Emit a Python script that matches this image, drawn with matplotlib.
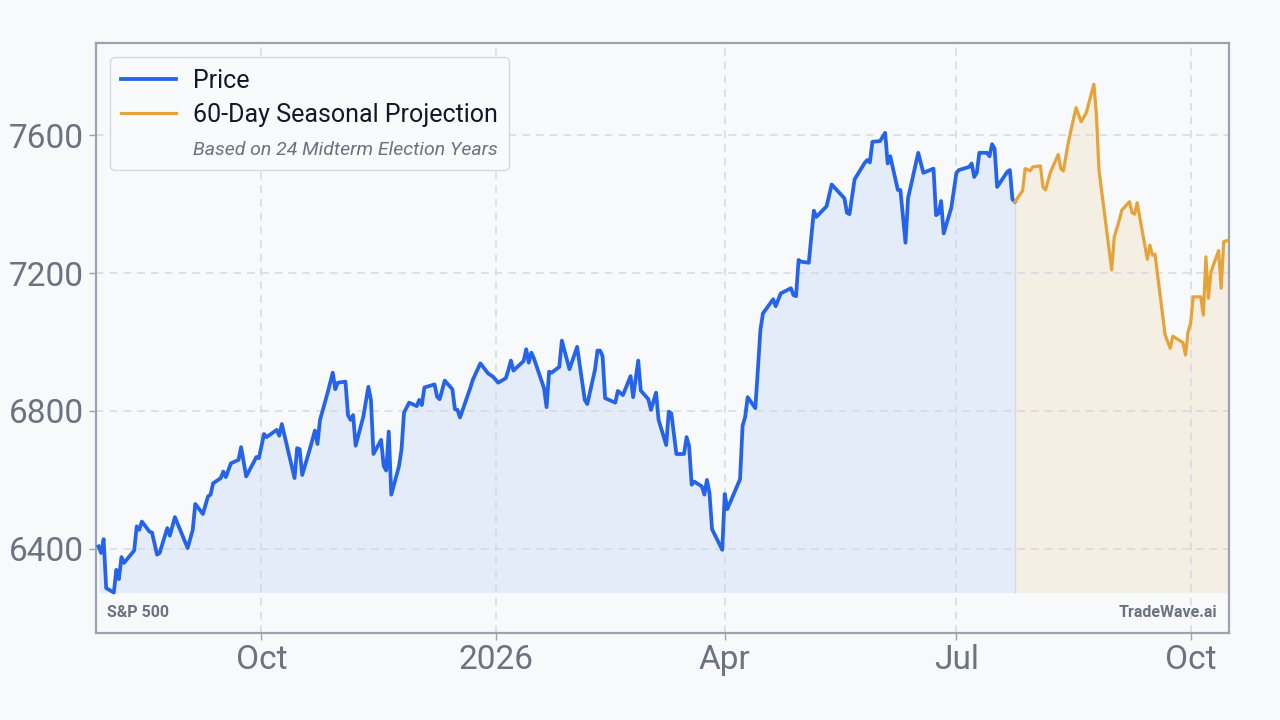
import matplotlib
matplotlib.use("Agg")
import matplotlib.pyplot as plt
import matplotlib.dates as mdates
from matplotlib.lines import Line2D
from matplotlib.ticker import FuncFormatter
import pandas as pd

plt.rcParams['font.family'] = ['Roboto', 'DejaVu Sans']

# S&P 500 closes
price_dates = [
    "2025-07-29", "2025-07-30", "2025-07-31", "2025-08-01", "2025-08-04", "2025-08-05", "2025-08-06",
    "2025-08-07", "2025-08-08", "2025-08-12", "2025-08-13", "2025-08-14", "2025-08-15", "2025-08-18",
    "2025-08-19", "2025-08-21", "2025-08-22", "2025-08-25", "2025-08-26", "2025-08-28",
    "2025-09-02", "2025-09-04", "2025-09-05", "2025-09-08", "2025-09-10", "2025-09-11", "2025-09-12",
    "2025-09-15", "2025-09-16", "2025-09-17", "2025-09-19", "2025-09-22", "2025-09-23", "2025-09-25",
    "2025-09-29", "2025-09-30",
    "2025-10-02", "2025-10-03", "2025-10-07", "2025-10-08", "2025-10-09", "2025-10-14", "2025-10-15",
    "2025-10-16", "2025-10-17", "2025-10-20", "2025-10-22", "2025-10-23", "2025-10-24", "2025-10-27",
    "2025-10-29", "2025-10-30", "2025-10-31",
    "2025-11-03", "2025-11-04", "2025-11-05", "2025-11-06", "2025-11-07", "2025-11-10", "2025-11-12",
    "2025-11-13", "2025-11-14", "2025-11-17", "2025-11-18", "2025-11-19", "2025-11-20", "2025-11-21",
    "2025-11-24", "2025-11-25", "2025-11-26", "2025-11-28",
    "2025-12-01", "2025-12-02", "2025-12-03", "2025-12-04", "2025-12-08", "2025-12-09", "2025-12-10",
    "2025-12-12", "2025-12-15", "2025-12-16", "2025-12-17", "2025-12-18", "2025-12-22", "2025-12-23",
    "2025-12-26", "2025-12-29", "2025-12-31",
    "2026-01-02", "2026-01-05", "2026-01-06", "2026-01-07", "2026-01-08", "2026-01-12", "2026-01-13",
    "2026-01-14", "2026-01-15", "2026-01-16", "2026-01-20", "2026-01-21", "2026-01-22", "2026-01-23",
    "2026-01-26", "2026-01-27", "2026-01-29", "2026-01-30",
    "2026-02-02", "2026-02-05", "2026-02-06", "2026-02-09", "2026-02-10", "2026-02-11", "2026-02-12",
    "2026-02-13", "2026-02-17", "2026-02-18", "2026-02-20", "2026-02-23", "2026-02-24", "2026-02-26",
    "2026-02-27",
    "2026-03-02", "2026-03-03", "2026-03-05", "2026-03-06", "2026-03-09", "2026-03-10", "2026-03-11",
    "2026-03-13", "2026-03-16", "2026-03-17", "2026-03-18", "2026-03-19", "2026-03-20", "2026-03-23",
    "2026-03-24", "2026-03-25", "2026-03-26", "2026-03-27", "2026-03-31",
    "2026-04-01", "2026-04-02", "2026-04-07", "2026-04-08", "2026-04-09", "2026-04-10", "2026-04-13",
    "2026-04-14", "2026-04-15", "2026-04-16", "2026-04-20", "2026-04-21", "2026-04-23", "2026-04-27",
    "2026-04-28", "2026-04-29", "2026-04-30",
    "2026-05-01", "2026-05-04", "2026-05-06", "2026-05-07", "2026-05-11", "2026-05-13", "2026-05-18",
    "2026-05-19", "2026-05-20", "2026-05-22", "2026-05-26", "2026-05-27", "2026-05-28", "2026-05-29",
    "2026-06-01", "2026-06-03", "2026-06-04", "2026-06-05", "2026-06-08", "2026-06-09", "2026-06-11",
    "2026-06-12", "2026-06-16", "2026-06-18", "2026-06-22", "2026-06-23", "2026-06-24", "2026-06-25",
    "2026-06-26", "2026-06-29",
    "2026-07-01", "2026-07-02", "2026-07-06", "2026-07-07", "2026-07-08", "2026-07-09", "2026-07-10",
    "2026-07-13", "2026-07-14", "2026-07-15", "2026-07-16", "2026-07-17", "2026-07-21", "2026-07-22",
    "2026-07-23", "2026-07-24",
]
price_vals = [
    6407, 6388, 6428, 6286, 6273, 6339, 6312,
    6376, 6359, 6395, 6465, 6455, 6479, 6450,
    6447, 6383, 6388, 6460, 6438, 6492,
    6402, 6455, 6530, 6501, 6552, 6557, 6590,
    6605, 6624, 6608, 6648, 6658, 6695, 6610,
    6666, 6663,
    6733, 6724, 6745, 6728, 6762, 6605, 6692,
    6689, 6614, 6689, 6743, 6704, 6774, 6853,
    6911, 6863, 6882,
    6885, 6788, 6774, 6788, 6699, 6783, 6870,
    6832, 6675, 6716, 6641, 6627, 6740, 6557,
    6639, 6687, 6795, 6824,
    6814, 6832, 6817, 6868, 6877, 6841, 6834,
    6888, 6863, 6805, 6803, 6781, 6866, 6890,
    6938, 6909, 6899,
    6882, 6895, 6919, 6946, 6917, 6945, 6979,
    6940, 6969, 6953, 6866, 6811, 6914, 6911,
    6928, 7004, 6948, 6921,
    6986, 6832, 6820, 6919, 6975, 6975, 6959,
    6837, 6824, 6858, 6846, 6901, 6840, 6946,
    6859,
    6834, 6803, 6853, 6774, 6701, 6798, 6793,
    6675, 6675, 6724, 6697, 6586, 6595, 6581,
    6557, 6600, 6561, 6457, 6397,
    6559, 6515, 6602, 6757, 6782, 6840, 6808,
    6919, 7035, 7083, 7124, 7104, 7141, 7156,
    7136, 7133, 7238,
    7233, 7230, 7381, 7363, 7394, 7457, 7417,
    7375, 7371, 7472, 7520, 7528, 7521, 7581,
    7583, 7607, 7518, 7539, 7441, 7441, 7288,
    7417, 7549, 7491, 7503, 7368, 7373, 7409,
    7315, 7390,
    7491, 7499, 7508, 7518, 7479, 7491, 7549,
    7549, 7539, 7574, 7561, 7450, 7494, 7499,
    7414, 7407,
]

# 60-day seasonal projection
proj_dates = [
    "2026-07-24", "2026-07-27", "2026-07-28", "2026-07-30", "2026-07-31", "2026-08-03", "2026-08-04",
    "2026-08-05", "2026-08-07", "2026-08-10", "2026-08-11", "2026-08-12", "2026-08-14", "2026-08-17",
    "2026-08-19", "2026-08-21", "2026-08-24", "2026-08-25", "2026-08-26", "2026-08-31",
    "2026-09-01", "2026-09-03", "2026-09-04", "2026-09-07", "2026-09-08", "2026-09-09", "2026-09-10",
    "2026-09-14", "2026-09-15", "2026-09-16", "2026-09-17", "2026-09-21", "2026-09-23", "2026-09-24",
    "2026-09-28", "2026-09-29", "2026-09-30",
    "2026-10-01", "2026-10-02", "2026-10-05", "2026-10-06", "2026-10-07", "2026-10-08", "2026-10-09",
    "2026-10-12", "2026-10-13", "2026-10-14", "2026-10-16",
]
proj_vals = [
    7407, 7439, 7503, 7497, 7508, 7511, 7450,
    7441, 7494, 7544, 7503, 7496, 7581, 7680,
    7639, 7665, 7748, 7658, 7499, 7209,
    7305, 7354, 7383, 7407, 7375, 7371, 7404,
    7240, 7281, 7252, 7255, 7020, 6982, 7017,
    6998, 6962, 7030,
    7054, 7131, 7131, 7078, 7247, 7127, 7204,
    7265, 7156, 7291, 7296,
]

px = pd.to_datetime(price_dates)
pj = pd.to_datetime(proj_dates)

bg = '#f8f9fb'
blue = '#2563eb'
orange = '#e5a33a'
gray_txt = '#6b7280'

fig = plt.figure(figsize=(12.8, 7.2), dpi=100, facecolor=bg)
ax = fig.add_axes([0.075, 0.121, 0.885, 0.819])
ax.set_facecolor(bg)

base = min(price_vals)
ax.fill_between(px, price_vals, base, color='#dbe7f8', alpha=0.7, lw=0, zorder=1)
ax.fill_between(pj, proj_vals, base, color='#f3e6cf', alpha=0.55, lw=0, zorder=1)
ax.vlines(pj[0], base, proj_vals[0], color='#d6dae0', lw=1, zorder=1.5)

ax.plot(px, price_vals, color=blue, lw=2.7, zorder=3, solid_joinstyle='round')
ax.plot(pj, proj_vals, color=orange, lw=2.3, zorder=3, solid_joinstyle='round')

ax.set_xlim(pd.Timestamp("2025-07-28"), pd.Timestamp("2026-10-16"))
ax.set_ylim(6156, 7867)
ax.set_yticks([6400, 6800, 7200, 7600])

ax.xaxis.set_major_locator(mdates.MonthLocator(bymonth=[1, 4, 7, 10]))
def fmt_date(v, pos):
    d = mdates.num2date(v)
    return str(d.year) if d.month == 1 else d.strftime('%b')
ax.xaxis.set_major_formatter(FuncFormatter(fmt_date))

ax.grid(True, color='#d5d9df', ls=(0, (5, 4)), lw=1.1, zorder=0)
ax.tick_params(axis='both', labelsize=24, colors=gray_txt, length=5, width=1, color='#9ca3af')
ax.tick_params(axis='x', pad=3)
for s in ax.spines.values():
    s.set_color('#9ca3af')
    s.set_linewidth(1.6)

handles = [Line2D([], [], color=blue, lw=2.7),
           Line2D([], [], color=orange, lw=2.3),
           Line2D([], [], color='none')]
labels = ['Price', '60-Day Seasonal Projection', 'Based on 24 Midterm Election Years']
leg = ax.legend(handles, labels, loc='upper left', fontsize=18, frameon=True, fancybox=True,
                handlelength=2.2, handletextpad=0.65, borderpad=0.45, labelspacing=0.42,
                borderaxespad=0, bbox_to_anchor=(0.0124, 0.976))
leg.get_frame().set_facecolor('#f9fafb')
leg.get_frame().set_edgecolor('#d5d9df')
leg.get_frame().set_alpha(1)
for t in leg.get_texts()[:2]:
    t.set_color('#111827')
note = leg.get_texts()[2]
note.set_fontsize(14)
note.set_style('italic')
note.set_color(gray_txt)

ax.text(0.01, 0.035, 'S&P 500', transform=ax.transAxes, fontsize=11.5, fontweight='bold',
        color=gray_txt, ha='left', va='center')
ax.text(0.99, 0.035, 'TradeWave.ai', transform=ax.transAxes, fontsize=11.5, fontweight='bold',
        color=gray_txt, ha='right', va='center')

plt.savefig('out.png', dpi=100, facecolor=bg)
